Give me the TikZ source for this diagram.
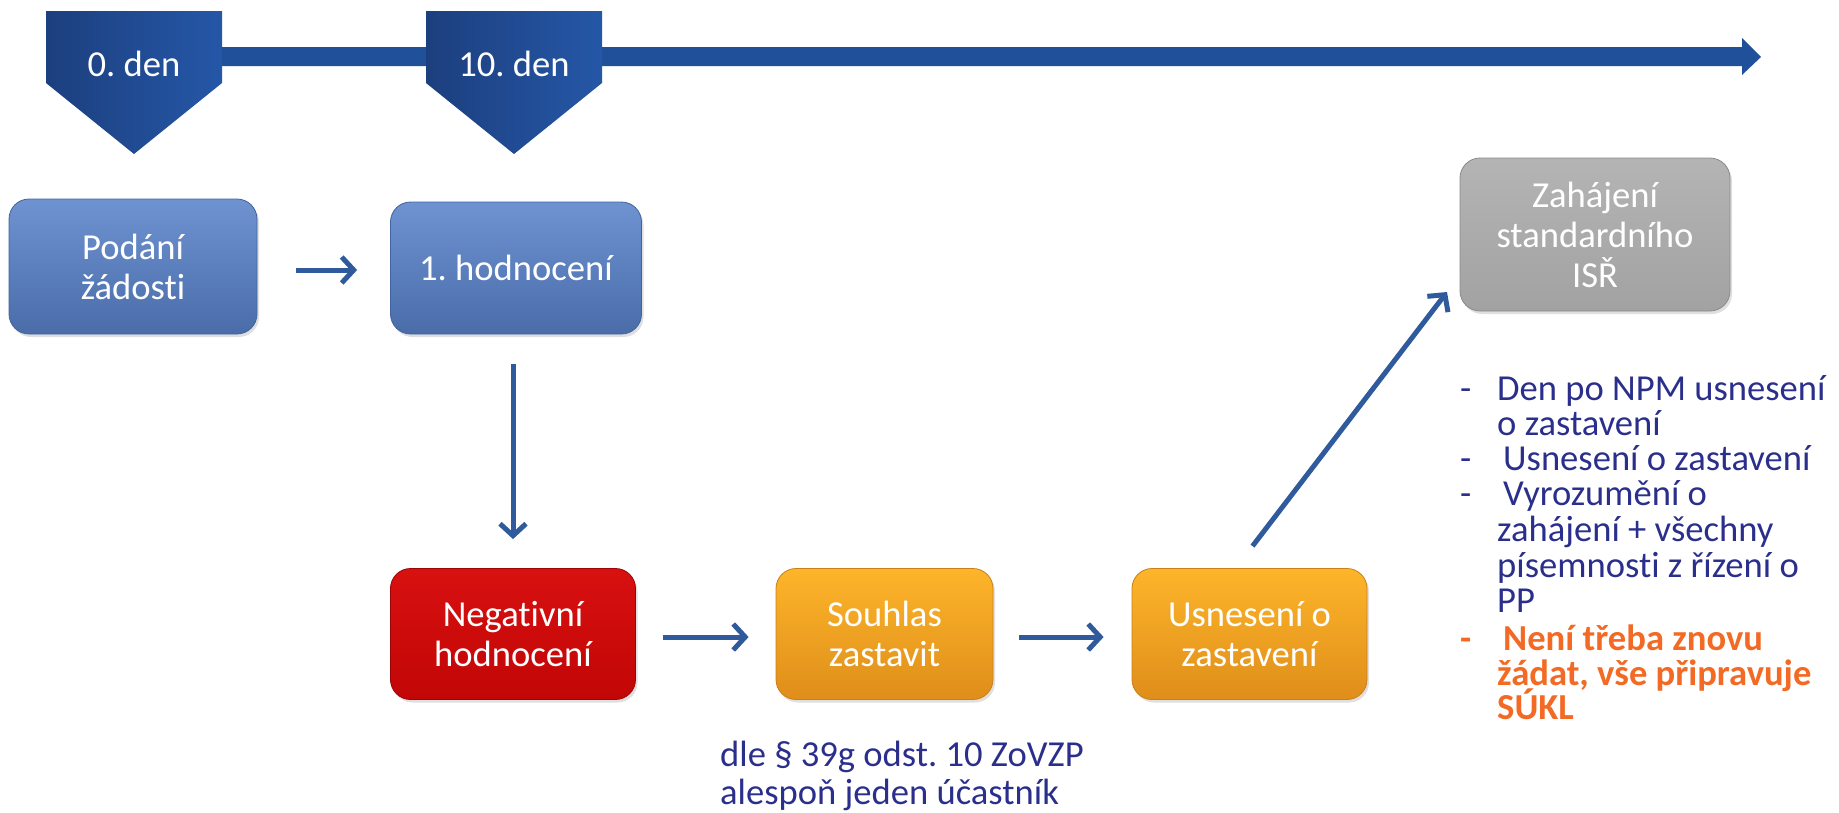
\documentclass[tikz,border=0pt]{standalone}
\usepackage{fontspec}
\setmainfont{Carlito}[RawFeature={-liga;-dlig;-clig}]
\frenchspacing
\usetikzlibrary{arrows.meta,shadows}
\definecolor{penL}{HTML}{1C3F7E}
\definecolor{penR}{HTML}{2557A7}
\definecolor{barC}{HTML}{21509A}
\definecolor{bluT}{HTML}{6E93D0}
\definecolor{bluB}{HTML}{4A6DAA}
\definecolor{bluD}{HTML}{4064A0}
\definecolor{redT}{HTML}{D81010}
\definecolor{redB}{HTML}{C20606}
\definecolor{orgT}{HTML}{FDB52A}
\definecolor{orgB}{HTML}{DF8E1A}
\definecolor{gryT}{HTML}{B4B4B4}
\definecolor{gryB}{HTML}{A2A2A2}
\definecolor{arrC}{HTML}{2F5B9C}
\definecolor{txtB}{HTML}{2B2F8C}
\definecolor{txtO}{HTML}{F26A24}
\begin{document}
\begin{tikzpicture}[x=1pt,y=-1pt,
  bigfont/.style={font=\fontsize{36.6}{40}\selectfont},
  box/.style={bigfont, rounded corners=20pt, inner sep=0pt, text=white, align=center,
    line width=0.8pt, drop shadow={opacity=0.25, shadow xshift=2pt, shadow yshift=-3pt}},
  bluebox/.style={box, top color=bluT, bottom color=bluB, draw=bluD},
  redbox/.style={box, top color=redT, bottom color=redB, draw=redB!80!black},
  orgbox/.style={box, top color=orgT, bottom color=orgB, draw=orgB!90!black},
  grybox/.style={box, top color=gryT, bottom color=gryB, draw=gryB!85!black},
  conn/.style={draw=arrC, line width=5pt, -{Straight Barb[length=12pt,width=26pt]}},
  lst/.style={bigfont, text=txtB, inner sep=0pt, anchor=base west},
  lsto/.style={lst, text=txtO, font=\fontsize{36.6}{40}\selectfont\bfseries},
  daytext/.style={bigfont, text=white, inner sep=0pt}
]
\useasboundingbox (0,0) rectangle (1839,812);
% timeline
\fill[barC] (210,47) -- (1742,47) -- (1742,38) -- (1761,57) -- (1742,75) -- (1742,66) -- (210,66) -- cycle;
% day markers
\shade[left color=penL, right color=penR] (46,11) -- (222,11) -- (222,83) -- (134,154) -- (46,83) -- cycle;
\shade[left color=penL, right color=penR] (426,11) -- (602,11) -- (602,83) -- (514,154) -- (426,83) -- cycle;
\node[daytext] (d0) at (134,64) {0. den};
\node[daytext] (d10) at (514,64) {10. den};
% boxes
\node[bluebox, minimum width=248pt, minimum height=135pt] (pod) at (133,266.5) {Podání\\žádosti};
\node[bluebox, minimum width=251pt, minimum height=132pt] (hod) at (516,268) {1. hodnocení};
\node[redbox, minimum width=245pt, minimum height=131pt] (neg) at (513,634) {Negativní\\hodnocení};
\node[orgbox, minimum width=217pt, minimum height=131pt] (sou) at (884.5,634) {Souhlas\\zastavit};
\node[orgbox, minimum width=235pt, minimum height=131pt] (usn) at (1249.5,634) {Usnesení o\\zastavení};
\node[grybox, minimum width=270pt, minimum height=153pt] (zah) at (1595,234.5) {Zahájení\\standardního\\ISŘ};
% connectors
\draw[conn, shorten <=39pt, shorten >=33pt] (pod.east |- 0,270) -- (hod.west |- 0,270);
\draw[conn, shorten <=30pt, shorten >=29pt] (neg.north |- hod.south) -- (neg.north);
\draw[conn, shorten <=27pt, shorten >=27pt] (neg.east |- 0,637) -- (sou.west |- 0,637);
\draw[conn, shorten <=26pt, shorten >=28pt] (sou.east |- 0,637) -- (usn.west |- 0,637);
\coordinate (dtip) at (1447,292);
\draw[conn] ([xshift=3pt,yshift=22pt]usn.north) -- (dtip);
% list
\node[lst] (m1) at (1460,400) {-};
\node[lst] (l1) at (1497,400) {Den po NPM usnesení};
\node[lst] (l2) at (1497,435) {o zastavení};
\node[lst] (m2) at (1460,470) {-};
\node[lst] (l3) at (1503,470) {Usnesení o zastavení};
\node[lst] (m3) at (1460,505) {-};
\node[lst] (l4) at (1503,505) {Vyrozumění o};
\node[lst] (l5) at (1497,541) {zahájení + všechny};
\node[lst] (l6) at (1497,577) {písemnosti z řízení o};
\node[lst] (l7) at (1497,612) {PP};
\node[lsto] (m4) at (1460,650) {-};
\node[lsto] (l8) at (1503,650) {Není třeba znovu};
\node[lsto] (l9) at (1497,685) {žádat, vše připravuje};
\node[lsto] (l10) at (1497,719) {SÚKL};
% note
\node[lst] (n1) at (720,766) {dle § 39g odst. 10 ZoVZP};
\node[lst] (n2) at (720,804) {alespoň jeden účastník};
\end{tikzpicture}
\end{document}
